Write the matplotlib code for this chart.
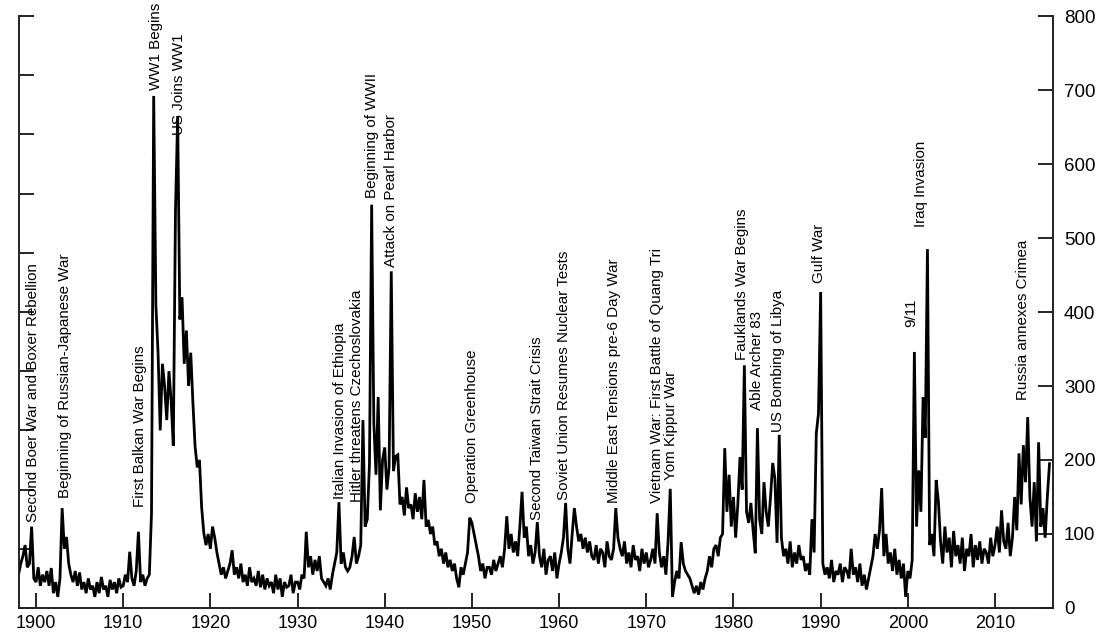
import numpy as np
import matplotlib
matplotlib.use("Agg")
import matplotlib.pyplot as plt

plt.rcParams['font.family'] = ['Liberation Sans', 'DejaVu Sans']

# quarterly readings of the index, starting 1898.0
gpr_1898_1912 = [45, 60, 70, 85,  55, 60, 110, 40,  35, 55, 30, 45,  35, 50, 30, 54,
                 20, 35, 15, 40,  135, 80, 96, 60,  45, 35, 50, 30,  48, 25, 35, 20,
                 40, 25, 30, 15,  35, 20, 42, 25,  30, 15, 38, 25,  35, 20, 40, 28,
                 30, 45, 35, 76,  40, 30, 50, 103,  35, 45, 30, 40]
gpr_1913_1919 = [45, 128, 692, 410,  345, 240, 330, 300,  254, 320, 280, 219,
                 538, 665, 390, 420,  330, 375, 300, 345,  277, 218, 190, 200,
                 136, 101, 85, 100]
gpr_1920_1937 = [80, 110, 95, 75,  60, 45, 55, 40,  50, 60, 78, 45,  55, 40, 60, 35,
                 45, 30, 55, 35,  40, 30, 50, 28,  45, 25, 40, 30,  35, 20, 45, 25,
                 40, 15, 35, 28,  30, 45, 20, 35,  35, 25, 45, 40,  103, 55, 70, 45,
                 65, 50, 70, 40,  35, 30, 40, 25,  45, 60, 75, 143,  60, 75, 55, 50,
                 55, 70, 96, 60,  70, 85, 254, 110]
gpr_1938_1959 = [120, 195, 545, 250,  180, 285, 132, 200,  217, 160, 190, 455,
                 185, 205, 207, 140,  150, 125, 163, 135,  140, 120, 155, 130,
                 150, 120, 173, 110,  119, 100, 110, 85,  90, 70, 80, 60,
                 75, 55, 65, 50,  60, 40, 28, 55,  45, 60, 75, 122,
                 115, 100, 85, 70,  50, 60, 40, 55,  55, 45, 65, 50,
                 60, 70, 55, 80,  124, 80, 100, 75,  90, 70, 110, 157,
                 95, 110, 70, 85,  60, 75, 116, 70,  55, 80, 45, 65,
                 70, 50, 75, 40]
gpr_1960_1979 = [60, 75, 95, 142,  80, 60, 100, 135,  110, 90, 100, 80,  95, 75, 90, 70,
                 65, 85, 60, 80,  75, 55, 90, 70,  65, 80, 135, 95,  80, 70, 90, 60,
                 75, 55, 85, 65,  70, 50, 80, 60,  75, 55, 65, 80,  60, 128, 75, 55,
                 70, 45, 90, 161,  15, 35, 50, 40,  89, 60, 50, 45,  40, 30, 20, 30,
                 18, 35, 25, 40,  50, 70, 55, 80,  85, 70, 95, 100,  216, 130, 180, 110]
gpr_1980_1999 = [150, 95, 140, 204,  160, 328, 130, 115,  142, 105, 74, 243,
                 120, 100, 170, 130,  110, 150, 196, 175,  88, 234, 95, 70,
                 80, 60, 90, 55,  75, 60, 85, 65,  70, 50, 60, 45,  120, 75, 236, 263,
                 427, 60, 45, 55,  40, 65, 35, 50,  45, 60, 35, 55,  50, 40, 80, 45,
                 55, 35, 60, 30,  45, 25, 40, 55,  70, 100, 80, 105,  162, 70, 100, 60,
                 75, 50, 80, 45,  65, 40, 60, 15]
gpr_2000_2016 = [50, 40, 65, 346,  110, 186, 130, 285,  230, 485, 85, 100,
                 70, 173, 145, 90,  60, 110, 75, 95,  55, 104, 70, 85,
                 60, 95, 50, 80,  70, 100, 55, 85,  65, 90, 60, 80,
                 75, 60, 95, 70,  85, 110, 75, 132,  90, 80, 115, 70,
                 95, 150, 105, 209,  140, 220, 170, 258,  150, 110, 170, 90,
                 224, 110, 135, 95,  150, 195]

start_year = 1898.0
step = 0.25

event_names = ["Second Boer War and Boxer Rebellion", "Beginning of Russian-Japanese War",
               "First Balkan War Begins", "WW1 Begins", "US Joins WW1",
               "Italian Invasion of Ethiopia", "Hitler threatens Czechoslovakia",
               "Beginning of WWII", "Attack on Pearl Harbor", "Operation Greenhouse",
               "Second Taiwan Strait Crisis", "Soviet Union Resumes Nuclear Tests",
               "Middle East Tensions pre-6 Day War", "Vietnam War: First Battle of Quang Tri",
               "Yom Kippur War", "Fauklands War Begins", "Able Archer 83",
               "US Bombing of Libya", "Gulf War", "9/11", "Iraq Invasion",
               "Russia annexes Crimea"]
event_years = [1899.66, 1903.33, 1911.93, 1913.76, 1916.40, 1934.87, 1936.82,
               1938.54, 1940.72, 1950.01, 1957.47, 1960.56, 1966.30, 1971.23,
               1972.84, 1980.98, 1982.70, 1985.11, 1989.81, 2000.37, 2001.51, 2013.21]
event_levels = [116, 149, 136, 700, 639, 147, 143, 554, 461, 142, 119, 146, 142,
                142, 173, 335, 268, 238, 439, 380, 515, 281]

gpr = np.array(gpr_1898_1912 + gpr_1913_1919 + gpr_1920_1937 + gpr_1938_1959
               + gpr_1960_1979 + gpr_1980_1999 + gpr_2000_2016, dtype=float)
dates = start_year + step * np.arange(len(gpr))

fig = plt.figure(figsize=(11.04, 6.41), dpi=100)
ax = fig.add_axes([0.0172, 0.0515, 0.9366, 0.9235])
ax2 = ax.twinx()

ax.plot(dates, gpr, color="black", lw=2.0, solid_joinstyle="miter")
ax.set_xlim(1898.05, 2016.65)
ax.set_ylim(0, 800)
ax2.set_ylim(0, 800)

for name, yr, lev in zip(event_names, event_years, event_levels):
    ax.text(yr, lev, name, rotation=90, ha="center", va="bottom", fontsize=10.9)

for a in (ax, ax2):
    a.spines["top"].set_visible(False)
    for s in ("left", "right", "bottom"):
        a.spines[s].set_linewidth(1.2)
        a.spines[s].set_color("#222222")

ax.set_xticks(np.arange(1900, 2011, 10))
ax.tick_params(axis="x", direction="in", length=11, width=1.2, pad=5, labelsize=13)
ax.set_yticks(np.arange(0, 801, 80))
ax.set_yticks([800], minor=True)
ax.tick_params(axis="y", which="major", direction="in", length=11, width=1.2, labelleft=False)
ax.tick_params(axis="y", which="minor", direction="in", length=22, width=1.2)

ax2.set_yticks(np.arange(0, 801, 100))
ax2.set_yticks([800], minor=True)
ax2.tick_params(axis="y", which="major", direction="in", length=11, width=1.2, pad=8, labelsize=13.5)
ax2.tick_params(axis="y", which="minor", direction="in", length=22, width=1.2)

fig.savefig("out.png", dpi=100)
